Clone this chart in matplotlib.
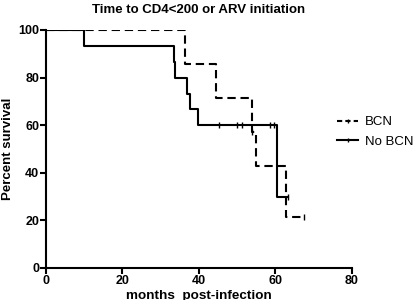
import matplotlib
matplotlib.use('Agg')
import matplotlib.pyplot as plt
from matplotlib.lines import Line2D

plt.rcParams['font.family'] = ['Liberation Sans', 'DejaVu Sans']
plt.rcParams['font.weight'] = 'bold'

# Kaplan-Meier steps
bcn_t = [0, 36.3, 44.4, 54.0, 55.0, 62.7, 67.5]
bcn_s = [100, 85.7, 71.4, 57.1, 42.9, 21.4, 21.4]
bcn_cens_t = [54.0, 67.5]
bcn_cens_s = [57.1, 21.4]

nobcn_t = [0, 10, 33.5, 33.7, 36.9, 37.6, 39.7, 60.3, 63.3]
nobcn_s = [100, 93.3, 86.7, 80, 73.3, 66.7, 60, 30, 30]
nobcn_cens_t = [45.3, 50.0, 51.3, 58.7, 59.6, 63.3]
nobcn_cens_s = [60, 60, 60, 60, 60, 30]

xticks = [0, 20, 40, 60, 80]
yticks = [0, 20, 40, 60, 80, 100]

fig = plt.figure(figsize=(4.14, 3.0), dpi=100)
ax = fig.add_axes([0.111, 0.107, 0.739, 0.793])

dash = (4, 2.3)
ax.plot(bcn_t, bcn_s, drawstyle='steps-post', color='black', lw=1.5, dashes=dash)
ax.plot(bcn_cens_t, bcn_cens_s, ls='none', marker='|', ms=4, mew=1.0, color='black')
ax.plot(nobcn_t, nobcn_s, drawstyle='steps-post', color='black', lw=1.5)
ax.plot(nobcn_cens_t, nobcn_cens_s, ls='none', marker='|', ms=4, mew=1.0, color='black')

ax.set_xlim(0, 80)
ax.set_ylim(0, 100)
ax.set_xticks(xticks)
ax.set_yticks(yticks)
for s in ['top', 'right']:
    ax.spines[s].set_visible(False)
for s in ['left', 'bottom']:
    ax.spines[s].set_linewidth(1.5)
ax.tick_params(width=1.5, length=4, labelsize=9, pad=1)
for lab in ax.get_xticklabels() + ax.get_yticklabels():
    lab.set_fontweight('bold')

ax.set_title('Time to CD4<200 or ARV initiation', fontsize=9.5, fontweight='bold', pad=12)
ax.set_ylabel('Percent survival', fontsize=9.5, fontweight='bold', labelpad=3)
ax.set_xlabel('months  post-infection', fontsize=9.7, fontweight='bold', labelpad=2)

handles = [Line2D([0], [0], color='black', lw=1.5, dashes=(2.5, 1.5), marker='|', ms=3),
           Line2D([0], [0], color='black', lw=1.5, marker='|', ms=3)]
fig.legend(handles, ['BCN', 'No BCN'], loc='center left',
           bbox_to_anchor=(337 / 414, 1 - 132 / 300), bbox_transform=fig.transFigure,
           frameon=False, handlelength=1.6, handletextpad=0.5, borderpad=0,
           borderaxespad=0, labelspacing=0.55,
           prop={'weight': 'normal', 'size': 9.5})

fig.savefig('out.png', dpi=100)
